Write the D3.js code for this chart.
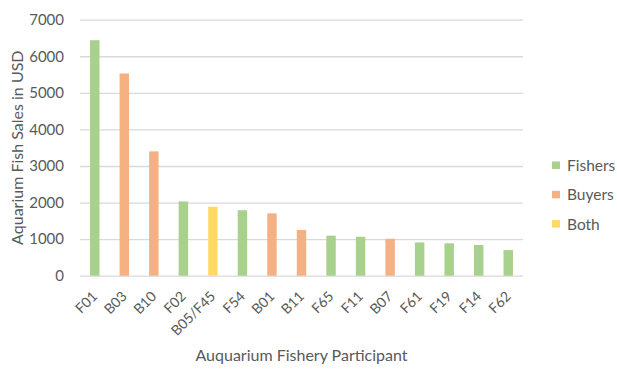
<!DOCTYPE html>
<html>
<head>
<meta charset="utf-8">
<script src="https://cdn.jsdelivr.net/npm/d3@7"></script>
<style>
  html, body { margin: 0; padding: 0; background: #fff; }
  svg text { font-family: Lato, "Open Sans", sans-serif; fill: #595959; }
</style>
</head>
<body>
<svg id="chart" width="617" height="369"></svg>
<script>
// Sales per participant, sorted descending
const participants = ["F01","B03","B10","F02","B05/F45","F54","B01","B11","F65","F11","B07","F61","F19","F14","F62"];
const sales        = [6440, 5530, 3400, 2030, 1885, 1790, 1705, 1250, 1095, 1065, 1010, 910, 885, 840, 700];
const roles        = ["Fishers","Buyers","Buyers","Fishers","Both","Fishers","Buyers","Buyers","Fishers","Fishers","Buyers","Fishers","Fishers","Fishers","Fishers"];
const roleNames    = ["Fishers","Buyers","Both"];
const roleColors   = ["#A9D18E","#F4B183","#FFD966"];
const yTicks       = [0,1000,2000,3000,4000,5000,6000,7000];

const svg = d3.select("#chart");
const m = {left: 80, right: 94, top: 19.7, bottom: 93.3};
const W = 617, H = 369;

const x = d3.scaleBand().domain(participants).range([m.left, W - m.right]).paddingInner(0.68).paddingOuter(0.34);
const y = d3.scaleLinear().domain([0, 7000]).range([H - m.bottom, m.top]);
const color = d3.scaleOrdinal().domain(roleNames).range(roleColors);

// gridlines
const yAxis = d3.axisLeft(y).tickValues(yTicks).tickSize(-(W - m.right - m.left)).tickPadding(16).tickFormat(d3.format("d"));
const gy = svg.append("g").attr("transform", `translate(${m.left},0)`).call(yAxis);
gy.select(".domain").remove();
gy.selectAll(".tick line").attr("stroke", "#D9D9D9").attr("stroke-width", 1.3);
gy.selectAll(".tick text").attr("font-size", 15).style("fill", "#595959");

// bars
svg.append("g").selectAll("rect").data(participants).join("rect")
  .attr("x", d => x(d))
  .attr("width", x.bandwidth())
  .attr("y", (d, i) => y(sales[i]))
  .attr("height", (d, i) => y(0) - y(sales[i]))
  .attr("fill", (d, i) => color(roles[i]));

// category axis
const xAxis = d3.axisBottom(x).tickSize(0).tickPadding(0);
const gx = svg.append("g").attr("transform", `translate(0,${y(0)})`).call(xAxis);
gx.select(".domain").remove();
gx.selectAll(".tick text")
  .attr("font-size", 14)
  .style("fill", "#595959")
  .attr("text-anchor", "end")
  .attr("dy", "0.35em")
  .attr("transform", "translate(0,18) rotate(-45)");

// axis titles
svg.append("text")
  .attr("transform", `translate(23,${(y(0) + y(7000)) / 2}) rotate(-90)`)
  .attr("text-anchor", "middle")
  .attr("font-size", 16)
  .text("Aquarium Fish Sales in USD");

svg.append("text")
  .attr("x", (m.left + W - m.right) / 2)
  .attr("y", 361)
  .attr("text-anchor", "middle")
  .attr("font-size", 16)
  .text("Auquarium Fishery Participant");

// legend
const lg = svg.append("g").attr("transform", "translate(552,161.5)");
const item = lg.selectAll("g").data(roleNames).join("g")
  .attr("transform", (d, i) => `translate(0,${i * 29.3})`);
item.append("rect").attr("width", 8).attr("height", 7.5).attr("fill", d => color(d));
item.append("text").attr("x", 15).attr("y", 4).attr("dy", "0.36em").attr("font-size", 15.5).text(d => d);
</script>
</body>
</html>
